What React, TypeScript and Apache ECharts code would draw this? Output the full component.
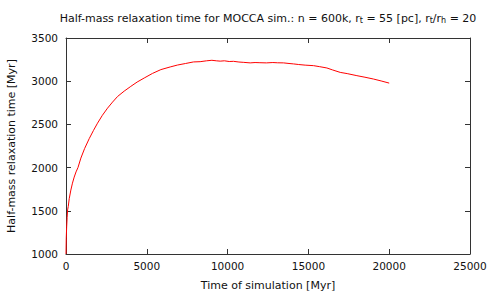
import React, { useEffect, useRef } from "react";
import * as echarts from "echarts";

const timeMyr = [
  0, 15, 40, 70, 100, 140, 200, 300, 400, 507, 620, 740, 920, 1150, 1436, 1700,
  1950, 2250, 2570, 2880, 3190, 3600, 4010, 4400, 4840, 5350, 5870, 6448, 6900,
  7400, 7890, 8300, 8700, 9028, 9300, 9542, 9800, 10100, 10365, 10700, 11000,
  11398, 11700, 12000, 12400, 12800, 13100, 13460, 13800, 14080, 14400, 14800,
  15316, 15700, 16144, 16500, 16968, 17400, 18000, 18500, 19029, 19500, 20000,
];
const relaxTime = [
  1000, 1180, 1310, 1420, 1510, 1550, 1640, 1740, 1820, 1890, 1950, 2000, 2110,
  2220, 2335, 2430, 2514, 2605, 2688, 2758, 2823, 2885, 2940, 2990, 3037, 3090,
  3134, 3165, 3187, 3205, 3223, 3226, 3236, 3242, 3236, 3232, 3236, 3228, 3230,
  3222, 3218, 3212, 3216, 3214, 3212, 3216, 3213, 3212, 3205, 3200, 3193, 3186,
  3180, 3168, 3153, 3130, 3102, 3088, 3064, 3046, 3025, 3003, 2978,
];

const titleText =
  "{a|Half-mass relaxation time for MOCCA sim.: n = 600k, r}{s|t}{a| = 55 [pc], r}{s|t}{a|/r}{s|h}{a| = 20}";
const xName = "Time of simulation [Myr]";
const yName = "Half-mass relaxation time [Myr]";

export default function App() {
  const ref = useRef<HTMLDivElement>(null);
  useEffect(() => {
    const chart = echarts.init(ref.current!, null, { renderer: "svg" });
    const font = "DejaVu Sans";
    const lineColor = "#333";
    const tickStyle = { show: true, inside: true, length: 5, lineStyle: { color: lineColor } };
    const fmt = (v: number) => String(v);
    chart.setOption({
      animation: false,
      backgroundColor: "#fff",
      grid: { left: 66, right: 21, top: 38, bottom: 40 },
      xAxis: [
        {
          type: "value", min: 0, max: 25000, interval: 5000, position: "bottom",
          axisLine: { show: true, onZero: false, lineStyle: { color: lineColor } },
          axisTick: tickStyle, splitLine: { show: false },
          axisLabel: { color: "#111", fontFamily: font, fontSize: 10.5, margin: 6, formatter: fmt },
        },
        {
          type: "value", min: 0, max: 25000, interval: 5000, position: "top",
          axisLine: { show: true, onZero: false, lineStyle: { color: lineColor } },
          axisTick: tickStyle, splitLine: { show: false }, axisLabel: { show: false },
        },
      ],
      yAxis: [
        {
          type: "value", min: 1000, max: 3500, interval: 500, position: "left",
          axisLine: { show: true, onZero: false, lineStyle: { color: lineColor } },
          axisTick: tickStyle, splitLine: { show: false },
          axisLabel: { color: "#111", fontFamily: font, fontSize: 10.5, margin: 8, formatter: fmt },
        },
        {
          type: "value", min: 1000, max: 3500, interval: 500, position: "right",
          axisLine: { show: true, onZero: false, lineStyle: { color: lineColor } },
          axisTick: tickStyle, splitLine: { show: false }, axisLabel: { show: false },
        },
      ],
      series: [
        {
          type: "line",
          xAxisIndex: 0,
          yAxisIndex: 0,
          data: timeMyr.map((t, i) => [t, relaxTime[i]]),
          showSymbol: false,
          lineStyle: { color: "#ff0000", width: 1 },
        },
      ],
      graphic: [
        {
          type: "text", x: 268, y: 18,
          style: {
            text: titleText, align: "center", verticalAlign: "middle",
            rich: {
              a: { fontFamily: font, fontSize: 11, fill: "#111", lineHeight: 15 },
              s: { fontFamily: font, fontSize: 8, fill: "#111", lineHeight: 15, padding: [5, 0, 0, 0] },
            },
          },
        },
        {
          type: "text", x: 268, y: 285,
          style: { text: xName, align: "center", verticalAlign: "middle", fontFamily: font, fontSize: 11, fill: "#111" },
        },
        {
          type: "text", x: 11, y: 146, rotation: Math.PI / 2,
          style: { text: yName, align: "center", verticalAlign: "middle", fontFamily: font, fontSize: 11, fill: "#111" },
        },
      ],
    });
    return () => chart.dispose();
  }, []);
  return <div ref={ref} style={{ position: "fixed", left: 0, top: 0, width: 491, height: 294 }} />;
}
